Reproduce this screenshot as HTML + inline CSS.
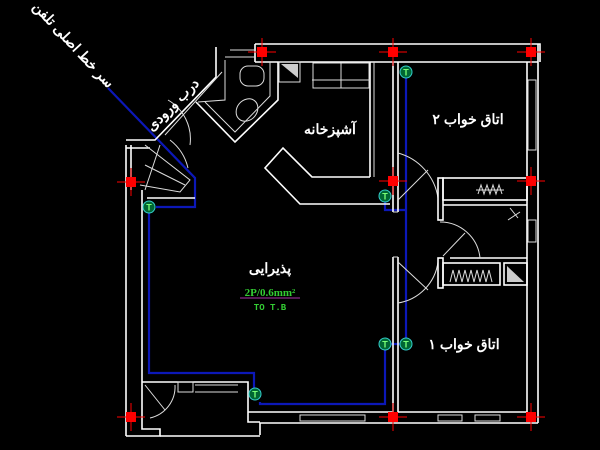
<!DOCTYPE html>
<html><head><meta charset="utf-8"><style>
html,body{margin:0;padding:0;background:#000;width:600px;height:450px;overflow:hidden}
svg{display:block}
.w{stroke:#fff;stroke-width:1.6;fill:none}
.t{stroke:#ddd;stroke-width:1;fill:none}
.b{stroke:#0c18b8;stroke-width:2.2;fill:none}
.lbl{font-family:"Liberation Sans","Noto Sans CJK SC",sans-serif;font-weight:bold;fill:#fff;font-size:14px}
</style></head><body>
<svg width="600" height="450" viewBox="0 0 600 450" xmlns="http://www.w3.org/2000/svg">
<defs>
<g id="rm"><line x1="-14" y1="0" x2="14" y2="0" stroke="#f00" stroke-width="1"/><line x1="0" y1="-14" x2="0" y2="14" stroke="#f00" stroke-width="1"/><rect x="-5" y="-5" width="10" height="10" fill="#f00"/></g>
<g id="tt"><circle r="6" fill="#063" stroke="#3cc" stroke-width="1"/><text x="0" y="3.5" text-anchor="middle" font-family="Liberation Sans,sans-serif" font-size="9" font-weight="bold" fill="#7f7">T</text></g>
</defs>
<polyline class="b" points="108,88 195,178 195,207 156,207"/>
<polyline class="b" points="149,213 149,373 254,373 254,388"/>
<polyline class="b" points="260,402 260,404 385,404 385,350"/>
<polyline class="b" points="391,344 400,344"/>
<polyline class="b" points="406,338 406,78"/>
<polyline class="b" points="385,202 385,210 407,210"/>
<polyline class="w" points="255,44 540,44 540,62"/>
<line class="w" x1="255" y1="44" x2="255" y2="62"/>
<line class="w" x1="255" y1="62" x2="538" y2="62"/>
<line class="t" x1="230" y1="50" x2="255" y2="50"/><line class="t" x1="225" y1="57" x2="255" y2="57"/>
<line class="w" x1="527" y1="62" x2="527" y2="412"/>
<line class="w" x1="538" y1="44" x2="538" y2="423"/>
<rect class="t" x="528" y="80" width="8" height="70"/>
<rect class="t" x="528" y="220" width="8" height="22"/>
<line class="w" x1="398" y1="412" x2="527" y2="412"/>
<line class="w" x1="248" y1="412" x2="393" y2="412"/>
<polyline class="w" points="260,435 260,423 538,423"/>
<rect class="t" x="300" y="415" width="65" height="6"/>
<rect class="t" x="438" y="415" width="24" height="6"/><rect class="t" x="475" y="415" width="25" height="6"/>
<line class="w" x1="126" y1="145" x2="126" y2="436"/>
<line class="w" x1="142" y1="190" x2="142" y2="422"/>
<polyline class="w" points="126,436 160,436 160,429 142,429 142,422"/>
<line class="w" x1="160" y1="436" x2="260" y2="436"/>
<polyline class="w" points="142,382 248,382 248,422 260,422"/>
<rect class="t" x="178" y="382" width="15" height="10"/><line class="t" x1="195" y1="385" x2="238" y2="385"/><line class="t" x1="195" y1="392" x2="238" y2="392"/>
<line class="t" x1="145" y1="385" x2="165" y2="410"/><path class="t" d="M175,385 A32,32 0 0 1 150,418"/>
<line class="w" x1="131" y1="145" x2="131" y2="190"/>
<polyline class="w" points="216,47 216,77 155,140 126,140"/>
<polyline class="w" points="126,148 150,148"/>
<polyline class="t" points="225,60 225,100 198,102"/>
<line class="t" x1="222" y1="72" x2="165" y2="135"/>
<path class="t" d="M145,145 L190,180 L180,192 L140,185"/>
<line class="t" x1="145" y1="165" x2="185" y2="185"/>
<line class="t" x1="160" y1="145" x2="145" y2="190"/>
<path class="t" d="M168,100 A45,45 0 0 1 190,145"/>
<path class="t" d="M170,140 A50,50 0 0 1 188,168"/>
<line class="w" x1="147" y1="198" x2="195" y2="198"/>
<polyline class="w" points="278,62 278,100 235,142 196,102"/>
<polyline class="t" points="270,62 270,96 235,132 205,102"/>
<rect class="t" x="240" y="66" width="24" height="20" rx="8"/>
<ellipse class="t" cx="247" cy="110" rx="10" ry="12" transform="rotate(40 247 110)"/>
<polygon points="281,64 298,78 298,64" fill="#ccc"/>
<rect class="t" x="279" y="62" width="21" height="20"/>
<line class="w" x1="370" y1="62" x2="370" y2="177"/>
<line class="t" x1="374" y1="62" x2="374" y2="177"/>
<polyline class="w" points="370,177 312,177 283,148 265,168 300,204 390,204"/>
<rect class="t" x="313" y="63" width="28" height="25"/><rect class="t" x="341" y="63" width="28" height="25"/>
<line class="t" x1="312" y1="80" x2="370" y2="80"/>
<line class="w" x1="393" y1="62" x2="393" y2="212"/><line class="w" x1="398" y1="62" x2="398" y2="212"/>
<line class="w" x1="393" y1="257" x2="393" y2="412"/><line class="w" x1="398" y1="257" x2="398" y2="412"/>
<line class="t" x1="393" y1="212" x2="398" y2="212"/><line class="t" x1="393" y1="257" x2="398" y2="257"/>
<path class="t" d="M398,153 A55,55 0 0 1 438,198"/><line class="t" x1="398" y1="200" x2="428" y2="170"/>
<path class="t" d="M398,303 A48,48 0 0 0 438,262"/><line class="t" x1="398" y1="262" x2="428" y2="290"/>
<rect class="w" x="443" y="178" width="84" height="22"/><rect class="w" x="438" y="178" width="5" height="42"/>
<polyline class="w" points="443,205 527,205"/><polyline class="w" points="527,258 450,258"/>
<path class="t" d="M440,222 A40,40 0 0 1 480,258"/><line class="t" x1="443" y1="256" x2="465" y2="233"/>
<rect class="w" x="443" y="263" width="57" height="22"/><rect class="w" x="504" y="263" width="23" height="22"/>
<polygon points="507,266 524,282 507,282" fill="#ccc"/>
<rect class="w" x="438" y="258" width="5" height="30"/>
<polyline class="t" points="478,194 481,185 484,194 487,185 490,194 493,185 496,194 499,185 502,194"/>
<line class="t" x1="476" y1="190" x2="504" y2="190"/>
<polyline class="t" points="450,282 453,270 456,282 459,270 462,282 465,270 468,282 471,270 474,282 477,270 480,282 483,270 486,282 489,270 492,282"/>
<line class="t" x1="508" y1="220" x2="520" y2="212"/><line class="t" x1="510" y1="208" x2="518" y2="218"/>
<use href="#rm" x="262" y="52"/><use href="#rm" x="393" y="52"/><use href="#rm" x="531" y="52"/>
<use href="#rm" x="531" y="181"/><use href="#rm" x="393" y="181"/><use href="#rm" x="131" y="182"/>
<use href="#rm" x="131" y="417"/><use href="#rm" x="393" y="417"/><use href="#rm" x="531" y="417"/>
<use href="#tt" x="406" y="72"/><use href="#tt" x="385" y="196"/><use href="#tt" x="149" y="207"/>
<use href="#tt" x="255" y="394"/><use href="#tt" x="385" y="344"/><use href="#tt" x="406" y="344"/>
<text class="lbl" x="330" y="134" text-anchor="middle">آشپزخانه</text>
<text class="lbl" x="468" y="124" text-anchor="middle">اتاق خواب ۲</text>
<text class="lbl" x="464" y="349" text-anchor="middle">اتاق خواب ۱</text>
<text class="lbl" x="270" y="273" text-anchor="middle">پذیرایی</text>
<text x="270" y="296" text-anchor="middle" font-family="Liberation Serif,serif" font-size="11" font-weight="bold" fill="#3c3">2P/0.6mm²</text>
<line x1="240" y1="298" x2="300" y2="298" stroke="#a3a" stroke-width="1"/>
<text x="270" y="310" text-anchor="middle" font-family="Liberation Mono,monospace" font-size="9" font-weight="bold" fill="#3c3">TO T.B</text>
<text class="lbl" font-size="12" transform="translate(70,48) rotate(47)" text-anchor="middle">سر خط اصلی تلفن</text>
<text class="lbl" font-size="10" transform="translate(176,108) rotate(-45)" text-anchor="middle">درب ورودی</text>
</svg>
</body></html>
